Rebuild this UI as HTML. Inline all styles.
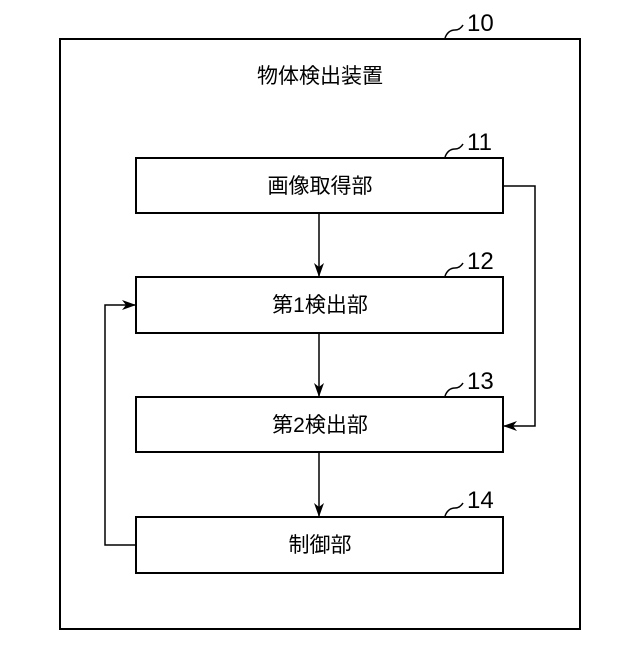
<!DOCTYPE html>
<html><head><meta charset="utf-8"><style>body{margin:0;background:#fff}</style></head><body>
<svg width="640" height="640" viewBox="0 0 640 640" xmlns="http://www.w3.org/2000/svg" font-family="Liberation Sans, Noto Sans CJK JP, sans-serif">
<defs><marker id="a" markerWidth="14" markerHeight="10" refX="13" refY="5" orient="auto" markerUnits="userSpaceOnUse"><path d="M0,0 L14,5 L0,10 L4,5 Z" fill="#000"/></marker></defs>
<g fill="none" stroke="#000" stroke-width="2">
<rect x="60" y="39" width="520" height="590"/>
<rect x="136" y="158" width="367" height="55"/>
<rect x="136" y="277" width="367" height="56"/>
<rect x="136" y="397" width="367" height="55"/>
<rect x="136" y="517" width="367" height="56"/>
</g>
<g fill="none" stroke="#000" stroke-width="1.5">
<line x1="319" y1="213" x2="319" y2="276" marker-end="url(#a)"/>
<line x1="319" y1="333" x2="319" y2="396" marker-end="url(#a)"/>
<line x1="319" y1="452" x2="319" y2="516" marker-end="url(#a)"/>
<polyline points="136,545 105,545 105,305 135,305" marker-end="url(#a)"/>
<polyline points="503,186 535,186 535,426 504,426" marker-end="url(#a)"/>
<path d="M445,38 q3,-8 10,-8 q5,0 8,-5"/>
<path d="M445,157 q3,-8 10,-8 q5,0 8,-5"/>
<path d="M445,276 q3,-8 10,-8 q5,0 8,-5"/>
<path d="M445,396 q3,-8 10,-8 q5,0 8,-5"/>
<path d="M445,516 q3,-8 10,-8 q5,0 8,-5"/>
</g>
<g font-size="24" fill="#000">
<text x="467" y="31">10</text>
<text x="467" y="150">11</text>
<text x="467" y="269">12</text>
<text x="467" y="389">13</text>
<text x="467" y="508">14</text>
</g>
<g font-size="21" fill="#000" text-anchor="middle">
<text x="320" y="83">物体検出装置</text>
<text x="320" y="193">画像取得部</text>
<text x="320" y="312">第1検出部</text>
<text x="320" y="432">第2検出部</text>
<text x="320" y="552">制御部</text>
</g>
</svg>
</body></html>
